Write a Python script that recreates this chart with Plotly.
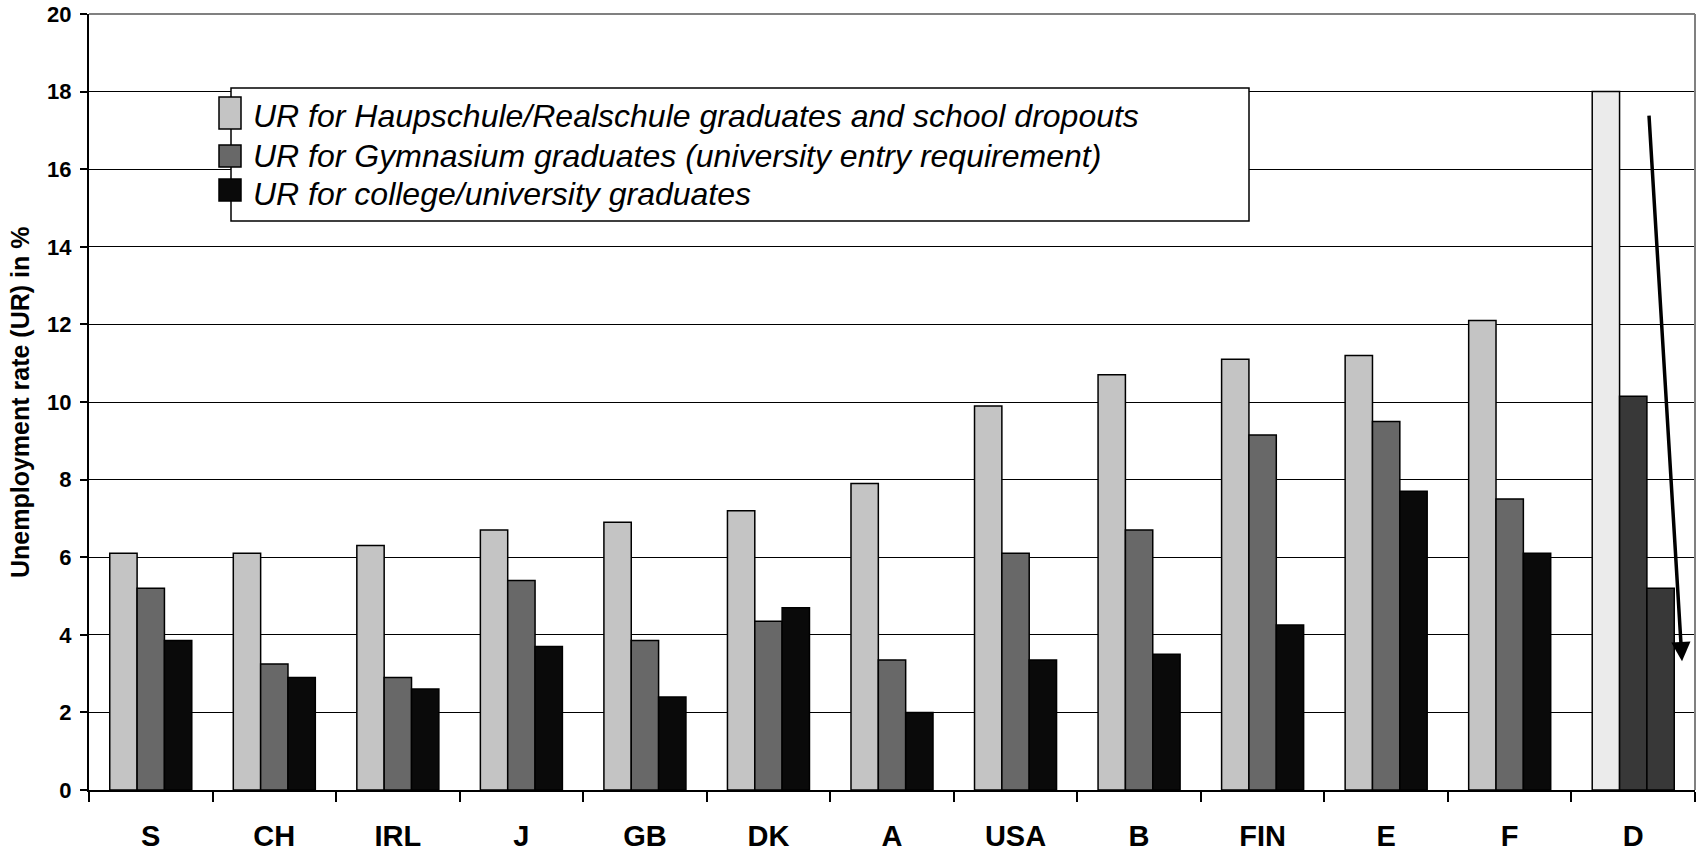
import plotly.graph_objects as go

# --- data -------------------------------------------------------------
countries = ["S", "CH", "IRL", "J", "GB", "DK", "A", "USA", "B", "FIN", "E", "F", "D"]
ur_hauptschule = [6.1, 6.1, 6.3, 6.7, 6.9, 7.2, 7.9, 9.9, 10.7, 11.1, 11.2, 12.1, 18.0]
ur_gymnasium = [5.2, 3.25, 2.9, 5.4, 3.85, 4.35, 3.35, 6.1, 6.7, 9.15, 9.5, 7.5, 10.15]
ur_university = [3.85, 2.9, 2.6, 3.7, 2.4, 4.7, 2.0, 3.35, 3.5, 4.25, 7.7, 6.1, 5.2]
series_names = [
    "UR for Haupschule/Realschule graduates and school dropouts",
    "UR for Gymnasium graduates (university entry requirement)",
    "UR for college/university graduates",
]
y_tick_values = [0, 2, 4, 6, 8, 10, 12, 14, 16, 18, 20]
y_title = "Unemployment rate (UR) in %"

# --- styling ----------------------------------------------------------
W, H = 1700, 853
L, R, T, B = 89, 5, 14, 63          # plot-area margins in px
PW, PH = W - L - R, H - T - B
FONT = "Liberation Sans, Arial, sans-serif"

base_colors = ["#c4c4c4", "#686868", "#0a0a0a"]
highlight = {"D": ["#ebebeb", "#383838", "#383838"]}   # Germany drawn in its own shades


def px_x(px):
    return (px - L) / PW


def px_y(py):
    return (H - B - py) / PH


fig = go.Figure()
for i, (name, vals) in enumerate(zip(series_names, [ur_hauptschule, ur_gymnasium, ur_university])):
    colors = [highlight[c][i] if c in highlight else base_colors[i] for c in countries]
    fig.add_trace(go.Bar(
        x=countries, y=vals, name=name, showlegend=False,
        marker=dict(color=colors, line=dict(color="black", width=1.5)),
    ))

shapes = []
# grey top and right frame
shapes.append(dict(type="line", xref="paper", yref="paper", x0=0, x1=1, y0=1, y1=1,
                   line=dict(color="#808080", width=2), layer="above"))
shapes.append(dict(type="line", xref="paper", yref="paper", x0=1, x1=1, y0=0, y1=1,
                   line=dict(color="#808080", width=2), layer="above"))
# legend box
shapes.append(dict(type="rect", xref="paper", yref="paper",
                   x0=px_x(231), x1=px_x(1249), y0=px_y(221), y1=px_y(88),
                   fillcolor="white", line=dict(color="black", width=1.5), layer="above"))
swatches = [(97, 129), (145, 167), (179, 201)]
for (top, bot), col in zip(swatches, base_colors):
    shapes.append(dict(type="rect", xref="paper", yref="paper",
                       x0=px_x(219), x1=px_x(241), y0=px_y(bot), y1=px_y(top),
                       fillcolor=col, line=dict(color="black", width=1.5), layer="above"))

annotations = []
for name, yc in zip(series_names, [116, 156, 194]):
    annotations.append(dict(
        text=name, xref="paper", yref="paper", x=px_x(251), y=px_y(yc),
        xanchor="left", yanchor="middle", showarrow=False,
        font=dict(family=FONT, size=32, style="italic", color="black"),
    ))
# axis title
annotations.append(dict(
    text=y_title, xref="paper", yref="paper", x=px_x(20), y=px_y(403),
    xanchor="center", yanchor="middle", textangle=-90, showarrow=False,
    font=dict(family=FONT, size=25, weight="bold", color="black"),
))
# downward arrow beside the German bars
annotations.append(dict(
    text="", xref="x", yref="y", axref="x", ayref="y",
    x=12.395, y=3.32, ax=12.127, ay=17.42,
    showarrow=True, arrowhead=2, arrowsize=1.1, arrowwidth=3.5, arrowcolor="black",
))

fig.update_layout(
    width=W, height=H,
    margin=dict(l=L, r=R, t=T, b=B, autoexpand=False),
    paper_bgcolor="white", plot_bgcolor="white",
    barmode="group", bargap=0.336, bargroupgap=0,
    font=dict(family=FONT, color="black"),
    shapes=shapes, annotations=annotations,
    xaxis=dict(
        automargin=False,
        showline=True, linecolor="black", linewidth=2,
        ticks="outside", ticklen=10, tickwidth=1.5, tickcolor="black",
        tickson="boundaries", showgrid=False,
        tickfont=dict(family=FONT, size=29, weight="bold", color="black"),
        ticklabelstandoff=19,
    ),
    yaxis=dict(
        automargin=False,
        range=[0, 20], tickvals=y_tick_values,
        showline=True, linecolor="black", linewidth=2,
        ticks="outside", ticklen=7, tickwidth=1.5, tickcolor="black",
        showgrid=True, gridcolor="black", gridwidth=1, zeroline=False,
        tickfont=dict(family=FONT, size=22, weight="bold", color="black"),
        ticklabelstandoff=4,
    ),
)

fig.write_html("out.html")
